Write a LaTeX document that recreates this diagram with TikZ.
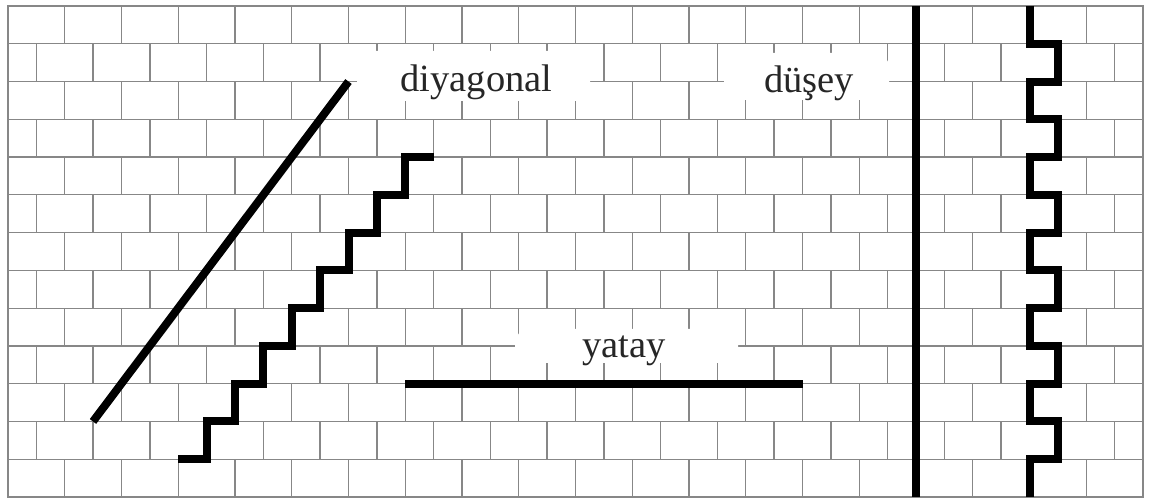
\documentclass[tikz,border=0pt]{standalone}
\usepackage{fontspec}
\setmainfont{Liberation Serif}
\definecolor{brickgray}{RGB}{135,135,135}
\begin{document}
\begin{tikzpicture}[x=1pt,y=-1pt,
  brick/.style={draw=brickgray,line width=1.3pt},
  bold/.style={draw=black,line width=8pt,line join=miter,line cap=butt},
  patch/.style={fill=white,draw=none,rounded corners=14pt},
  lbl/.style={font=\fontsize{38.5}{40}\selectfont,inner sep=0pt,anchor=base,text=black!85}]
\useasboundingbox (0,0) rectangle (1149,502);
\fill[white] (0,0) rectangle (1149,502);
% brick wall: horizontal joints
\foreach \r in {0,...,13}{
  \pgfmathsetmacro{\yy}{6+\r*37.77}
  \draw[brick] (8,\yy) -- (1143,\yy);
}
% brick wall: vertical joints
\foreach \r in {0,...,12}{
  \pgfmathsetmacro{\ya}{6+\r*37.77}
  \pgfmathsetmacro{\yb}{6+(\r+1)*37.77}
  \ifodd\r
    \foreach \k in {0,...,19}{
      \pgfmathsetmacro{\xx}{36.375+\k*56.75}
      \draw[brick] (\xx,\ya) -- (\xx,\yb);
    }
  \else
    \foreach \k in {1,...,19}{
      \pgfmathsetmacro{\xx}{8+\k*56.75}
      \draw[brick] (\xx,\ya) -- (\xx,\yb);
    }
  \fi
}
\draw[brick] (8,6) rectangle (1143,497.01);
% white patches behind the labels
\fill[patch] (357,51) rectangle (590,101);
\fill[patch] (724,53) rectangle (889,100);
\fill[patch] (515,329) rectangle (738,363);
% diagonal
\draw[bold] (93,421.47) -- (348.5,81.54);
% staircase
\draw[bold] (178.25,459.24) -- (206.625,459.24) -- (206.625,421.47) -- (235,421.47)
  -- (235,383.7) -- (263.375,383.7) -- (263.375,345.93) -- (291.75,345.93)
  -- (291.75,308.16) -- (320.125,308.16) -- (320.125,270.39) -- (348.5,270.39)
  -- (348.5,232.62) -- (376.875,232.62) -- (376.875,194.85) -- (405.25,194.85)
  -- (405.25,157.08) -- (433.625,157.08);
% horizontal
\draw[bold] (405.25,383.7) -- (802.5,383.7);
% vertical
\draw[bold] (916,6) -- (916,497.01);
% toothed vertical
\draw[bold] (1029.5,6) -- (1029.5,43.77) -- (1057.875,43.77) -- (1057.875,81.54)
  -- (1029.5,81.54) -- (1029.5,119.31) -- (1057.875,119.31) -- (1057.875,157.08)
  -- (1029.5,157.08) -- (1029.5,194.85) -- (1057.875,194.85) -- (1057.875,232.62)
  -- (1029.5,232.62) -- (1029.5,270.39) -- (1057.875,270.39) -- (1057.875,308.16)
  -- (1029.5,308.16) -- (1029.5,345.93) -- (1057.875,345.93) -- (1057.875,383.7)
  -- (1029.5,383.7) -- (1029.5,421.47) -- (1057.875,421.47) -- (1057.875,459.24)
  -- (1029.5,459.24) -- (1029.5,497.01);
% labels
\node[lbl] (diag) at (476.5,92) {diyagonal};
\node[lbl] (dusey) at (809,93) {düşey};
\node[lbl] (yatay) at (624,358) {yatay};
\end{tikzpicture}
\end{document}
